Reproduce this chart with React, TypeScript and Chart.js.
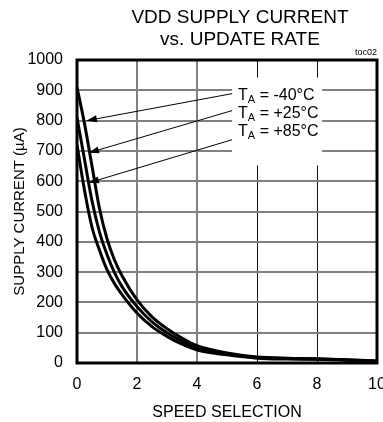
import { useEffect, useRef } from 'react';
import { Chart, registerables } from 'chart.js';

Chart.register(...registerables);

const titleLines = ['VDD SUPPLY CURRENT', 'vs. UPDATE RATE'];
const figureTag = 'toc02';
const xAxisTitle = 'SPEED SELECTION';
const yAxisTitle = 'SUPPLY CURRENT (µA)';

const speed = [0, 0.25, 0.5, 0.75, 1, 1.25, 1.5, 2, 2.5, 3, 3.5, 4, 5, 6, 7, 8, 9, 10];
const iddMinus40 = [910, 790, 650, 510, 410, 340, 288, 208, 152, 113, 82, 57, 33, 20, 16, 14, 11, 7];
const iddPlus25 = [810, 672, 535, 432, 358, 298, 252, 186, 136, 100, 72, 50, 30, 18, 15, 13, 10, 6];
const iddPlus85 = [720, 570, 448, 372, 308, 262, 226, 165, 120, 88, 62, 43, 27, 16, 13, 12, 9, 5];

const seriesLabels = ['-40°C', '+25°C', '+85°C'];
// arrow [x, y] endpoints in data units
const arrowFrom = [
  [5.17, 889],
  [5.17, 833],
  [5.17, 737],
];
const arrowTo = [
  [0.33, 800],
  [0.4, 694],
  [0.4, 595],
];

const FONT = "'Liberation Sans', Arial, Helvetica, sans-serif";

const decorPlugin = {
  id: 'decor',
  beforeDatasetsDraw(chart: any) {
    const { ctx, scales } = chart;
    const x = scales.x;
    const y = scales.y;
    ctx.save();
    ctx.fillStyle = '#ffffff';
    const l = x.getPixelForValue(5.17);
    const r = x.getPixelForValue(8.17);
    const t = y.getPixelForValue(942);
    const b = y.getPixelForValue(652);
    ctx.fillRect(l, t, r - l, b - t);
    ctx.restore();
  },
  afterDatasetsDraw(chart: any) {
    const { ctx, scales } = chart;
    const x = scales.x;
    const y = scales.y;
    ctx.save();
    ctx.strokeStyle = '#000';
    ctx.fillStyle = '#000';
    ctx.lineWidth = 1;
    for (let i = 0; i < arrowFrom.length; i++) {
      const x1 = x.getPixelForValue(arrowFrom[i][0]);
      const y1 = y.getPixelForValue(arrowFrom[i][1]);
      const x2 = x.getPixelForValue(arrowTo[i][0]);
      const y2 = y.getPixelForValue(arrowTo[i][1]);
      ctx.beginPath();
      ctx.moveTo(x1, y1);
      ctx.lineTo(x2, y2);
      ctx.stroke();
      const ang = Math.atan2(y2 - y1, x2 - x1);
      const len = 10;
      const hw = 3.5;
      const bx = x2 - len * Math.cos(ang);
      const by = y2 - len * Math.sin(ang);
      ctx.beginPath();
      ctx.moveTo(x2, y2);
      ctx.lineTo(bx + hw * Math.sin(ang), by - hw * Math.cos(ang));
      ctx.lineTo(bx - hw * Math.sin(ang), by + hw * Math.cos(ang));
      ctx.closePath();
      ctx.fill();
    }
    const lx = x.getPixelForValue(5.37);
    const rows = [888, 828, 768];
    ctx.textBaseline = 'alphabetic';
    ctx.textAlign = 'left';
    for (let i = 0; i < seriesLabels.length; i++) {
      const cy = y.getPixelForValue(rows[i]);
      const base = cy + 6;
      ctx.font = `16px ${FONT}`;
      ctx.fillText('T', lx, base);
      const wT = ctx.measureText('T').width;
      ctx.font = `11px ${FONT}`;
      ctx.fillText('A', lx + wT, base + 3);
      const wA = ctx.measureText('A').width;
      ctx.font = `16px ${FONT}`;
      ctx.fillText(' = ' + seriesLabels[i], lx + wT + wA, base);
    }
    ctx.restore();
  },
  afterDraw(chart: any) {
    const { ctx, chartArea } = chart;
    ctx.save();
    ctx.strokeStyle = '#000';
    ctx.lineWidth = 3;
    ctx.strokeRect(chartArea.left, chartArea.top, chartArea.right - chartArea.left, chartArea.bottom - chartArea.top);
    ctx.fillStyle = '#000';
    ctx.textAlign = 'center';
    ctx.textBaseline = 'middle';
    ctx.font = `19px ${FONT}`;
    ctx.fillText(titleLines[0], 240, 18);
    ctx.fillText(titleLines[1], 240, 40);
    ctx.textAlign = 'right';
    ctx.font = `9px ${FONT}`;
    ctx.fillText(figureTag, chartArea.right, chartArea.top - 7);
    ctx.restore();
  },
};

export default function App() {
  const ref = useRef<HTMLCanvasElement | null>(null);
  useEffect(() => {
    document.body.style.margin = '0';
    const canvas = ref.current!;
    const mk = (d: number[]) => speed.map((s, i) => ({ x: s, y: d[i] }));
    const ds = [iddMinus40, iddPlus25, iddPlus85].map((d, i) => ({
      label: seriesLabels[i],
      data: mk(d),
      borderColor: '#000',
      borderWidth: 3,
      pointRadius: 0,
      fill: false,
      cubicInterpolationMode: 'monotone' as const,
    }));
    const chart = new Chart(canvas, {
      type: 'line',
      data: { datasets: ds },
      options: {
        animation: false,
        responsive: false,
        devicePixelRatio: 1,
        layout: { padding: { top: 60, right: 23, left: 0, bottom: 0 } },
        plugins: { legend: { display: false }, tooltip: { enabled: false }, title: { display: false } },
        scales: {
          x: {
            type: 'linear',
            min: 0,
            max: 10,
            ticks: { stepSize: 2, color: '#000', font: { family: FONT, size: 16 }, padding: 12, maxRotation: 0, callback: (v: any) => String(v) },
            grid: {
              drawTicks: false,
              color: (c: any) => (c.tick && (c.tick.value === 6 || c.tick.value === 8) ? '#111' : '#808080'),
              lineWidth: (c: any) => (c.tick && (c.tick.value === 6 || c.tick.value === 8) ? 1 : 2),
            },
            border: { display: false },
            title: { display: true, text: xAxisTitle, color: '#000', font: { family: FONT, size: 16 }, padding: { top: 0, bottom: 0 } },
            afterFit: (s: any) => { s.height = 59; },
          },
          y: {
            type: 'linear',
            min: 0,
            max: 1000,
            ticks: { stepSize: 100, color: '#000', font: { family: FONT, size: 16 }, padding: 14, callback: (v: any) => String(v) },
            grid: { drawTicks: false, color: '#808080', lineWidth: 2 },
            border: { display: false },
            title: { display: true, text: yAxisTitle, color: '#000', font: { family: FONT, size: 15 }, padding: { top: 11, bottom: 0 } },
            afterFit: (s: any) => { s.width = 77; },
          },
        },
      },
      plugins: [decorPlugin],
    });
    return () => chart.destroy();
  }, []);
  return (
    <div style={{ width: 383, height: 422, overflow: 'hidden' }}>
      <canvas ref={ref} width={400} height={422} style={{ display: 'block', width: 400, height: 422 }} />
    </div>
  );
}
